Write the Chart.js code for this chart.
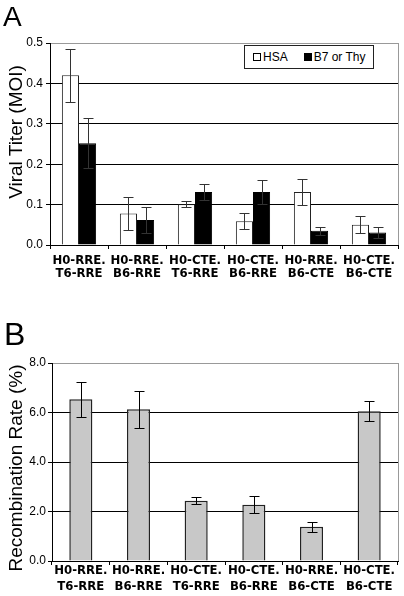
<!DOCTYPE html>
<html>
<head>
<meta charset="utf-8">
<script src="https://cdn.jsdelivr.net/npm/chart.js@4.4.1/dist/chart.umd.min.js"></script>
<style>
  body{margin:0;background:#fff;font-family:'Liberation Sans',Arial,sans-serif;color:#000}
  #wrap{position:relative;width:404px;height:596px;overflow:hidden}
  canvas{position:absolute;left:0}
  .letter{position:absolute;line-height:1}
  .ytitle{position:absolute;white-space:nowrap;font-size:19px;line-height:1;transform:translate(-50%,-50%) rotate(-90deg)}
  #legendA{position:absolute;left:244px;top:45px;width:128px;height:22px;border:1px solid #222;background:#fff;
    display:flex;align-items:center;font-size:12px;box-sizing:content-box}
  #legendA .item{display:flex;align-items:center;margin-left:8px}
  #legendA .item + .item{margin-left:16px}
  #legendA .sw{width:6px;height:6px;border:1px solid #000;margin-right:2px}
</style>
</head>
<body>
<div id="wrap">
  <canvas id="chartA" width="404" height="300" style="top:0"></canvas>
  <canvas id="chartB" width="404" height="296" style="top:300px"></canvas>
  <div class="letter" style="left:3px;top:3px;font-size:28px">A</div>
  <div class="letter" style="left:4px;top:318px;font-size:32px">B</div>
  <div class="ytitle" style="left:15px;top:132px">Viral Titer (MOI)</div>
  <div class="ytitle" style="left:15px;top:468px">Recombination Rate (%)</div>
  <div id="legendA"></div>
</div>
<script>
// categories shared by both panels
const categories = [
  ['H0-RRE.', 'T6-RRE'],
  ['H0-RRE.', 'B6-RRE'],
  ['H0-CTE.', 'T6-RRE'],
  ['H0-CTE.', 'B6-RRE'],
  ['H0-RRE.', 'B6-CTE'],
  ['H0-CTE.', 'B6-CTE']
];

// panel A - viral titer
const seriesNames = ['HSA', 'B7 or Thy'];
const hsaTiter = [0.420, 0.078, 0.101, 0.059, 0.131, 0.050];
const hsaErr   = [0.066, 0.041, 0.007, 0.020, 0.032, 0.021];
const b7Titer  = [0.252, 0.062, 0.131, 0.131, 0.035, 0.031];
const b7Err    = [0.062, 0.032, 0.019, 0.030, 0.010, 0.013];
const titerTicks = [0, 0.1, 0.2, 0.3, 0.4, 0.5];

// panel B - recombination rate
const recombRate = [6.54, 6.13, 2.43, 2.27, 1.38, 6.05];
const recombErr  = [0.71, 0.74, 0.14, 0.35, 0.20, 0.41];
const rateTicks  = [0, 2, 4, 6, 8];

const labelFont = "'Liberation Sans Narrow','Arial Narrow','DejaVu Sans Condensed',sans-serif";
const numFont = "'Liberation Sans',Arial,sans-serif";

// error bars drawn from dataset.errors through the y scale
const errorBars = {
  id: 'errorBars',
  afterDatasetsDraw(chart, args, opts){
    const ctx = chart.ctx, y = chart.scales.y, cap = opts.cap || 5;
    ctx.save();
    ctx.strokeStyle = opts.color || '#000';
    ctx.lineWidth = 1;
    chart.data.datasets.forEach((ds, i) => {
      if(!ds.errors) return;
      chart.getDatasetMeta(i).data.forEach((bar, j) => {
        const v = ds.data[j], e = ds.errors[j];
        const x = Math.round(bar.x) + 0.5;
        const top = Math.round(y.getPixelForValue(v + e)) + 0.5;
        const bot = Math.round(y.getPixelForValue(Math.max(v - e, 0))) + 0.5;
        ctx.beginPath();
        ctx.moveTo(x, top); ctx.lineTo(x, bot);
        ctx.moveTo(x - cap, top); ctx.lineTo(x + cap, top);
        ctx.moveTo(x - cap, bot); ctx.lineTo(x + cap, bot);
        ctx.stroke();
      });
    });
    ctx.restore();
  }
};

// gray right edge of the plot box
const plotFrame = {
  id: 'plotFrame',
  beforeDatasetsDraw(chart){
    const {ctx, chartArea:a} = chart;
    ctx.save();
    ctx.strokeStyle = '#999';
    ctx.lineWidth = 1;
    ctx.beginPath();
    ctx.moveTo(Math.round(a.right) + 0.5, a.top);
    ctx.lineTo(Math.round(a.right) + 0.5, a.bottom);
    ctx.stroke();
    ctx.restore();
  }
};

function xAxis(height, lineHeight, padding){
  return {
    type:'category',
    offset:true,
    grid:{ offset:true, drawOnChartArea:false, drawTicks:true, tickLength:4, color:'#000' },
    border:{ color:'#000', width:1 },
    ticks:{ color:'#000', autoSkip:false, maxRotation:0, padding,
      font:{ family:labelFont, size:13, weight:'bold', lineHeight } },
    afterFit(s){ s.height = height; }
  };
}

function yAxis(width, max, tickValues, padding){
  return {
    min:0, max,
    afterBuildTicks(s){ s.ticks = tickValues.map(v => ({ value:v })); },
    grid:{ color: c => (c.tick && c.tick.value === max) ? '#999' : '#000', tickColor:'#000', tickLength:4, drawTicks:true },
    border:{ color:'#000', width:1 },
    ticks:{ color:'#000', padding, font:{ family:numFont, size:12 }, callback: v => Number(v).toFixed(1) },
    afterFit(s){ s.width = width; }
  };
}

const colorsA = ['#ffffff', '#000000'];

new Chart(document.getElementById('chartA'), {
  type:'bar',
  data:{
    labels: categories,
    datasets:[
      { label:seriesNames[0], data:hsaTiter, errors:hsaErr, backgroundColor:colorsA[0], borderColor:'#222', borderWidth:1 },
      { label:seriesNames[1], data:b7Titer, errors:b7Err, backgroundColor:colorsA[1], borderColor:'#000', borderWidth:1 }
    ]
  },
  options:{
    responsive:false, animation:false, devicePixelRatio:1,
    layout:{ padding:{ top:43, right:6, bottom:0, left:0 } },
    datasets:{ bar:{ categoryPercentage:0.59, barPercentage:1.0 } },
    plugins:{ legend:{ display:false }, tooltip:{ enabled:false }, errorBars:{ cap:5, color:'#333' } },
    scales:{ x:xAxis(55, '13px', 5), y:yAxis(50, 0.5, titerTicks, 3) }
  },
  plugins:[plotFrame, errorBars]
});

new Chart(document.getElementById('chartB'), {
  type:'bar',
  data:{
    labels: categories,
    datasets:[
      { label:'Recombination Rate', data:recombRate, errors:recombErr, backgroundColor:'#c8c8c8', borderColor:'#222', borderWidth:1.5 }
    ]
  },
  options:{
    responsive:false, animation:false, devicePixelRatio:1,
    layout:{ padding:{ top:63, right:6, bottom:0, left:0 } },
    datasets:{ bar:{ categoryPercentage:0.4, barPercentage:1.0 } },
    plugins:{ legend:{ display:false }, tooltip:{ enabled:false }, errorBars:{ cap:5, color:'#000' } },
    scales:{ x:xAxis(35, '16px', -2), y:yAxis(52, 8, rateTicks, 2) }
  },
  plugins:[plotFrame, errorBars]
});

// legend for panel A built from the series names
const legend = document.getElementById('legendA');
seriesNames.forEach((name, i) => {
  const item = document.createElement('div');
  item.className = 'item';
  item.innerHTML = '<span class="sw" style="background:' + colorsA[i] + '"></span><span>' + name + '</span>';
  legend.appendChild(item);
});
</script>
</body>
</html>
